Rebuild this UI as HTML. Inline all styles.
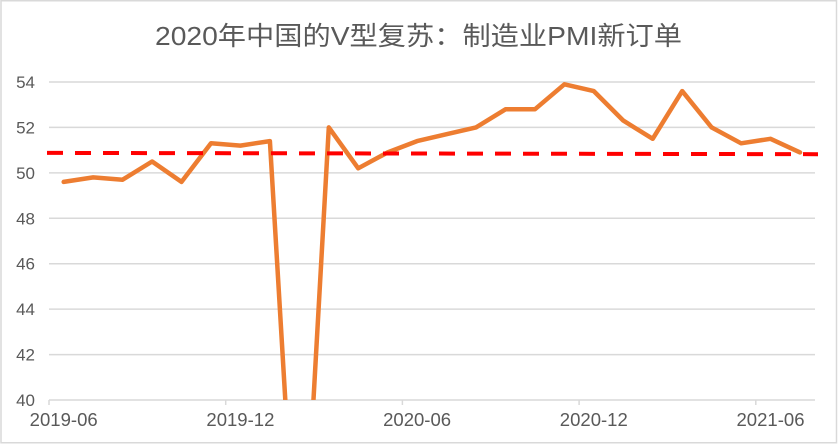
<!DOCTYPE html>
<html>
<head>
<meta charset="utf-8">
<style>
html,body{margin:0;padding:0;background:#fff;width:838px;height:444px;overflow:hidden;}
svg{display:block;}
text{font-family:"Liberation Sans","Noto Sans CJK SC",sans-serif;fill:#595959;}
</style>
</head>
<body>
<svg width="838" height="444" viewBox="0 0 838 444" xmlns="http://www.w3.org/2000/svg">
  <defs>
    <clipPath id="plot"><rect x="0" y="0" width="838" height="400"/></clipPath>
  </defs>
  <rect x="0" y="0" width="838" height="444" fill="#fff"/>
  <rect x="1" y="0.75" width="835.5" height="442" fill="none" stroke="#d9d9d9" stroke-width="1.5"/>

  <text x="418.5" y="45" font-size="26" text-anchor="middle" textLength="527" lengthAdjust="spacingAndGlyphs">2020年中国的V型复苏：制造业PMI新订单</text>

  <!-- gridlines -->
  <g stroke="#d9d9d9" stroke-width="1.5">
    <line x1="49" x2="815" y1="82" y2="82"/>
    <line x1="49" x2="815" y1="127.4" y2="127.4"/>
    <line x1="49" x2="815" y1="172.9" y2="172.9"/>
    <line x1="49" x2="815" y1="218.3" y2="218.3"/>
    <line x1="49" x2="815" y1="263.7" y2="263.7"/>
    <line x1="49" x2="815" y1="309.1" y2="309.1"/>
    <line x1="49" x2="815" y1="354.6" y2="354.6"/>
    <line x1="49" x2="815" y1="400" y2="400"/>
    <line x1="49" x2="49" y1="400" y2="405"/>
    <line x1="225.7" x2="225.7" y1="400" y2="405"/>
    <line x1="402.4" x2="402.4" y1="400" y2="405"/>
    <line x1="579.1" x2="579.1" y1="400" y2="405"/>
    <line x1="755.8" x2="755.8" y1="400" y2="405"/>
  </g>

  <!-- y labels -->
  <g font-size="17" text-anchor="end">
    <text x="35" y="88">54</text>
    <text x="35" y="133.4">52</text>
    <text x="35" y="178.9">50</text>
    <text x="35" y="224.3">48</text>
    <text x="35" y="269.7">46</text>
    <text x="35" y="315.1">44</text>
    <text x="35" y="360.6">42</text>
    <text x="35" y="406">40</text>
  </g>

  <!-- x labels -->
  <g font-size="18" text-anchor="middle">
    <text x="63.7" y="426" textLength="68" lengthAdjust="spacingAndGlyphs">2019-06</text>
    <text x="240.4" y="426" textLength="68" lengthAdjust="spacingAndGlyphs">2019-12</text>
    <text x="417.1" y="426" textLength="68" lengthAdjust="spacingAndGlyphs">2020-06</text>
    <text x="593.8" y="426" textLength="68" lengthAdjust="spacingAndGlyphs">2020-12</text>
    <text x="770.5" y="426" textLength="68" lengthAdjust="spacingAndGlyphs">2021-06</text>
  </g>

  <!-- series -->
  <g clip-path="url(#plot)">
    <polyline fill="none" stroke="#ed7d31" stroke-width="4.5" stroke-linejoin="round" stroke-linecap="round"
      points="63.7,181.9 93.2,177.4 122.6,179.7 152.1,161.5 181.5,181.9 211.0,143.3 240.4,145.6 269.9,141.1 285.9,410"/>
    <polyline fill="none" stroke="#ed7d31" stroke-width="4.5" stroke-linejoin="round" stroke-linecap="round"
      points="312.9,410 328.8,127.4 358.2,168.3 387.7,152.4 417.1,141.1 446.6,134.2 476.0,127.4 505.5,109.3 534.9,109.3 564.4,84.3 593.8,91.1 623.3,120.6 652.7,138.8 682.2,91.1 711.6,127.4 741.1,143.3 770.5,138.8 800.0,152.4"/>
  </g>

  <!-- red dashed reference -->
  <line x1="47" y1="152.9" x2="818" y2="154.2" stroke="#ff0000" stroke-width="4" stroke-dasharray="16 12"/>
</svg>
</body>
</html>
